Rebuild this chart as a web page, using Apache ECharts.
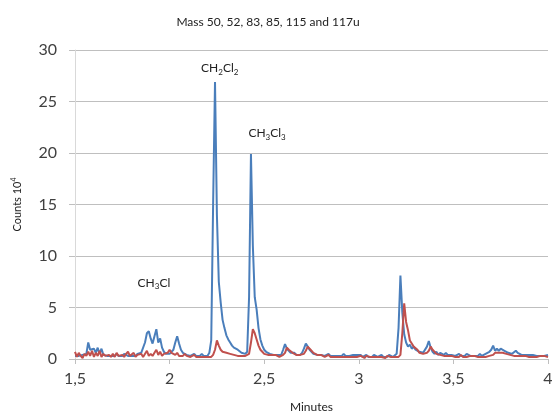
<!DOCTYPE html>
<html><head><meta charset="utf-8">
<script src="https://cdn.jsdelivr.net/npm/echarts@6/dist/echarts.min.js"></script>
<style>html,body{margin:0;padding:0;background:#fff}#c{width:552px;height:416px}</style>
</head><body><div id="c"></div>
<script>
const titleText = 'Mass 50, 52, 83, 85, 115 and 117u';
const xTicks = [1.5, 2, 2.5, 3, 3.5, 4];
const yTicks = [0, 5, 10, 15, 20, 25, 30];
const times = [
1.50,1.51,1.52,1.53,1.54,1.55,1.56,1.57,1.58,1.59,
1.60,1.61,1.62,1.63,1.64,1.65,1.66,1.67,1.68,1.69,
1.70,1.71,1.72,1.73,1.74,1.75,1.76,1.77,1.78,1.79,
1.80,1.81,1.82,1.83,1.84,1.85,1.86,1.87,1.88,1.89,
1.90,1.91,1.92,1.93,1.94,1.95,1.96,1.97,1.98,1.99,
2.00,2.01,2.02,2.03,2.04,2.05,2.06,2.07,2.08,2.09,
2.10,2.11,2.12,2.13,2.14,2.15,2.16,2.17,2.18,2.19,
2.20,2.21,2.22,2.23,2.24,2.25,2.26,2.27,2.28,2.29,
2.30,2.31,2.32,2.33,2.34,2.35,2.36,2.37,2.38,2.39,
2.40,2.41,2.42,2.43,2.44,2.45,2.46,2.47,2.48,2.49,
2.50,2.51,2.52,2.53,2.54,2.55,2.56,2.57,2.58,2.59,
2.60,2.61,2.62,2.63,2.64,2.65,2.66,2.67,2.68,2.69,
2.70,2.71,2.72,2.73,2.74,2.75,2.76,2.77,2.78,2.79,
2.80,2.81,2.82,2.83,2.84,2.85,2.86,2.87,2.88,2.89,
2.90,2.91,2.92,2.93,2.94,2.95,2.96,2.97,2.98,2.99,
3.00,3.01,3.02,3.03,3.04,3.05,3.06,3.07,3.08,3.09,
3.10,3.11,3.12,3.13,3.14,3.15,3.16,3.17,3.18,3.19,
3.20,3.21,3.22,3.23,3.24,3.25,3.26,3.27,3.28,3.29,
3.30,3.31,3.32,3.33,3.34,3.35,3.36,3.37,3.38,3.39,
3.40,3.41,3.42,3.43,3.44,3.45,3.46,3.47,3.48,3.49,
3.50,3.51,3.52,3.53,3.54,3.55,3.56,3.57,3.58,3.59,
3.60,3.61,3.62,3.63,3.64,3.65,3.66,3.67,3.68,3.69,
3.70,3.71,3.72,3.73,3.74,3.75,3.76,3.77,3.78,3.79,
3.80,3.81,3.82,3.83,3.84,3.85,3.86,3.87,3.88,3.89,
3.90,3.91,3.92,3.93,3.94,3.95,3.96,3.97,3.98,3.99,
4.00];
const blueCounts = [
0.3,0.2,0.3,0.2,0.4,0.3,0.5,1.6,0.9,0.8,
1.0,0.6,1.1,0.5,1.0,0.4,0.5,0.3,0.4,0.3,
0.4,0.3,0.5,0.3,0.4,0.3,0.5,0.4,0.3,0.4,
0.3,0.4,0.3,0.5,0.4,0.6,0.7,1.6,2.5,2.7,
2.0,1.5,2.2,2.9,1.6,2.0,1.1,0.7,0.5,0.6,
0.5,0.6,0.9,1.6,2.2,1.5,0.9,0.6,0.5,0.4,
0.5,0.3,0.4,0.5,0.3,0.4,0.3,0.5,0.3,0.4,
0.3,0.6,1.8,15.0,26.9,14.0,7.5,5.5,3.8,3.0,
2.3,1.9,1.6,1.3,1.1,1.0,0.9,0.8,0.6,0.6,
0.5,0.7,6.0,19.9,11.0,6.0,4.8,3.0,1.9,1.3,
0.9,0.7,0.6,0.5,0.6,0.4,0.5,0.4,0.5,0.4,
0.9,1.45,1.0,0.8,0.6,0.5,0.6,0.4,0.5,0.4,
0.6,1.0,1.5,1.2,0.9,0.7,0.5,0.6,0.4,0.5,
0.4,0.5,0.3,0.4,0.5,0.3,0.4,0.3,0.4,0.3,
0.4,0.3,0.5,0.3,0.4,0.3,0.3,0.4,0.3,0.4,
0.3,0.4,0.2,0.3,0.4,0.2,0.3,0.2,0.4,0.3,
0.2,0.3,0.4,0.2,0.3,0.2,0.4,0.3,0.2,0.3,
0.5,3.0,8.1,4.5,2.4,1.6,1.2,1.4,1.0,1.2,
0.9,1.0,0.7,0.8,0.6,0.7,1.2,1.75,1.1,0.7,
0.5,0.7,0.4,0.6,0.5,0.4,0.6,0.4,0.5,0.4,
0.5,0.3,0.4,0.5,0.3,0.4,0.3,0.5,0.4,0.3,
0.4,0.3,0.4,0.3,0.5,0.3,0.4,0.5,0.6,0.7,
0.9,1.3,0.8,1.0,0.8,1.0,0.9,0.8,0.7,0.6,
0.7,0.5,0.6,0.8,0.6,0.5,0.4,0.5,0.4,0.3,
0.4,0.3,0.4,0.5,0.3,0.4,0.3,0.4,0.3,0.4,
0.4];
const redCounts = [
0.7,0.2,0.6,0.3,0.1,0.5,0.3,0.7,0.3,0.8,
0.2,0.6,0.3,0.8,0.2,0.5,0.3,0.2,0.4,0.2,
0.5,0.2,0.6,0.3,0.2,0.4,0.2,0.5,0.7,0.3,
0.2,0.6,0.2,0.4,0.3,0.5,0.2,0.3,0.8,0.3,
0.5,0.3,0.6,0.9,0.4,0.7,0.3,0.5,0.4,0.6,
0.9,0.6,0.7,0.4,0.6,0.3,0.4,0.3,0.5,0.3,
0.4,0.2,0.3,0.4,0.2,0.3,0.2,0.3,0.2,0.3,
0.2,0.3,0.2,0.4,0.9,1.8,1.3,0.9,0.7,0.8,
0.6,0.7,0.5,0.6,0.4,0.5,0.3,0.4,0.3,0.4,
0.3,0.4,0.5,1.6,2.9,2.5,1.9,1.3,0.9,0.7,
0.5,0.6,0.4,0.3,0.4,0.3,0.4,0.3,0.2,0.3,
0.4,0.6,1.1,0.9,0.8,0.6,0.5,0.4,0.3,0.4,
0.3,0.5,0.8,1.2,1.0,0.8,0.6,0.5,0.4,0.3,
0.4,0.3,0.2,0.3,0.4,0.2,0.3,0.2,0.3,0.2,
0.3,0.2,0.3,0.2,0.3,0.2,0.3,0.2,0.3,0.2,
0.2,0.3,0.2,0.1,0.3,0.2,0.2,0.3,0.2,0.1,
0.2,0.3,0.2,0.2,0.1,0.3,0.2,0.2,0.3,0.2,
0.2,0.2,0.4,2.5,5.4,3.6,2.8,1.8,1.5,1.2,
1.3,0.9,0.6,0.7,0.5,0.4,0.6,0.8,1.2,0.9,
0.7,0.5,0.6,0.4,0.5,0.3,0.4,0.3,0.4,0.3,
0.3,0.2,0.3,0.2,0.4,0.2,0.3,0.2,0.2,0.3,
0.2,0.3,0.2,0.2,0.3,0.2,0.3,0.2,0.2,0.3,
0.3,0.4,0.6,0.7,0.6,0.7,0.6,0.5,0.5,0.4,
0.4,0.3,0.3,0.2,0.3,0.2,0.3,0.2,0.3,0.2,
0.2,0.3,0.2,0.3,0.2,0.2,0.3,0.2,0.3,0.2,
0.2];
// annotation labels: [name parts, time, counts]
const peakLabels = [
  {parts: [['CH','a'],['2','s'],['Cl','a'],['2','s']], t: 2.265, v: 28.2},
  {parts: [['CH','a'],['3','s'],['Cl','a'],['3','s']], t: 2.515, v: 21.9},
  {parts: [['CH','a'],['3','s'],['Cl','a']], t: 1.917, v: 7.4}
];

const FONT = 'Lato, "Open Sans", sans-serif';
const chart = echarts.init(document.getElementById('c'), null, {renderer: 'canvas'});
const pairs = arr => arr.map((v, i) => [times[i], v]);
const rich = {
  a: {fontSize: 12, fontFamily: FONT, color: '#222', lineHeight: 16},
  s: {fontSize: 8, fontFamily: FONT, color: '#222', lineHeight: 16, verticalAlign: 'bottom', padding: [6, 0, 0, 0]}
};
chart.setOption({
  animation: false,
  backgroundColor: '#fff',
  title: {
    text: titleText, left: 263, top: 11, textAlign: 'center',
    textStyle: {fontSize: 12, fontWeight: 'normal', color: '#222', fontFamily: FONT}
  },
  grid: {left: 75, right: 4, top: 50, bottom: 57, containLabel: false, outerBoundsMode: 'none'},
  xAxis: {
    type: 'value', min: xTicks[0], max: xTicks[xTicks.length - 1], interval: 0.5,
    name: 'Minutes', nameLocation: 'middle', nameGap: 42,
    nameTextStyle: {fontSize: 12, color: '#222', fontFamily: FONT},
    axisLine: {show: true, lineStyle: {color: '#bfbfbf', width: 1}},
    axisTick: {show: true, length: 5, lineStyle: {color: '#bfbfbf'}},
    splitLine: {show: false},
    axisLabel: {fontSize: 16, color: '#404040', fontFamily: FONT, margin: 12,
      formatter: v => String(v).replace('.', ',')}
  },
  yAxis: {
    type: 'value', min: yTicks[0], max: yTicks[yTicks.length - 1], interval: 5,
    name: '{a|Counts 10}{p|4}', nameLocation: 'middle', nameGap: 51,
    nameTextStyle: {
      rich: {
        a: {fontSize: 11, fontFamily: FONT, color: '#222', lineHeight: 14},
        p: {fontSize: 7, fontFamily: FONT, color: '#222', lineHeight: 14, verticalAlign: 'top', padding: [0, 0, 5, 0]}
      }
    },
    axisLine: {show: true, lineStyle: {color: '#d9d9d9', width: 1}},
    axisTick: {show: true, length: 6, lineStyle: {color: '#bfbfbf'}},
    splitLine: {show: true, lineStyle: {color: '#bfbfbf', width: 1}},
    axisLabel: {fontSize: 16, color: '#404040', fontFamily: FONT, margin: 18}
  },
  series: [
    {
      type: 'line', name: 'blue', data: pairs(blueCounts), showSymbol: false, symbol: 'none',
      lineStyle: {color: '#4a7ebb', width: 2}, itemStyle: {color: '#4a7ebb'}, z: 2,
      markPoint: {
        symbol: 'circle', symbolSize: 0, silent: true,
        data: peakLabels.map(p => ({
          coord: [p.t, p.v],
          label: {show: true, position: 'inside', formatter: p.parts.map(q => '{' + q[1] + '|' + q[0] + '}').join(''), rich: rich}
        }))
      }
    },
    {
      type: 'line', name: 'red', data: pairs(redCounts), showSymbol: false, symbol: 'none',
      lineStyle: {color: '#c0504d', width: 2}, itemStyle: {color: '#c0504d'}, z: 3
    }
  ]
});
</script></body></html>
